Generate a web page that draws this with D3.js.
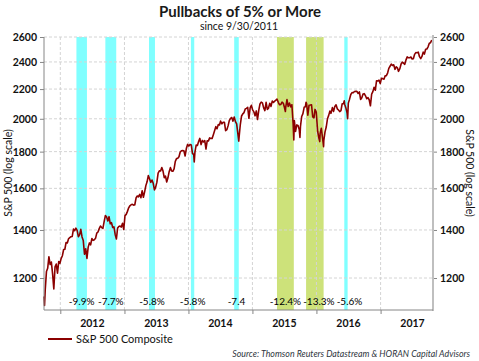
<!DOCTYPE html>
<html>
<head>
<meta charset="utf-8">
<script src="https://cdn.jsdelivr.net/npm/d3@7"></script>
<style>
body { margin: 0; background: #fff; }
text { font-family: Lato, "Liberation Sans", sans-serif; }
</style>
</head>
<body>
<script>
// S&P 500 closes (roughly weekly)
var dates = [
 "2011-09-30","2011-10-03","2011-10-07","2011-10-14","2011-10-21","2011-10-28","2011-11-04","2011-11-11","2011-11-18","2011-11-25","2011-12-02","2011-12-09","2011-12-16","2011-12-23","2011-12-30",
 "2012-01-06","2012-01-13","2012-01-20","2012-01-27","2012-02-03","2012-02-10","2012-02-17","2012-02-24","2012-03-02","2012-03-09","2012-03-16","2012-03-23","2012-03-30","2012-04-06","2012-04-13","2012-04-20","2012-04-27","2012-05-04","2012-05-11","2012-05-18","2012-05-25","2012-06-01","2012-06-08","2012-06-15","2012-06-22","2012-06-29","2012-07-06","2012-07-13","2012-07-20","2012-07-27","2012-08-03","2012-08-10","2012-08-17","2012-08-24","2012-08-31","2012-09-07","2012-09-14","2012-09-21","2012-09-28","2012-10-05","2012-10-12","2012-10-19","2012-10-26","2012-11-02","2012-11-09","2012-11-16","2012-11-23","2012-11-30","2012-12-07","2012-12-14","2012-12-21","2012-12-28",
 "2013-01-04","2013-01-11","2013-01-18","2013-01-25","2013-02-01","2013-02-08","2013-02-15","2013-02-22","2013-03-01","2013-03-08","2013-03-15","2013-03-22","2013-03-29","2013-04-05","2013-04-12","2013-04-19","2013-04-26","2013-05-03","2013-05-10","2013-05-17","2013-05-24","2013-05-31","2013-06-07","2013-06-14","2013-06-21","2013-06-28","2013-07-05","2013-07-12","2013-07-19","2013-07-26","2013-08-02","2013-08-09","2013-08-16","2013-08-23","2013-08-30","2013-09-06","2013-09-13","2013-09-20","2013-09-27","2013-10-04","2013-10-11","2013-10-18","2013-10-25","2013-11-01","2013-11-08","2013-11-15","2013-11-22","2013-11-29","2013-12-06","2013-12-13","2013-12-20","2013-12-27",
 "2014-01-03","2014-01-10","2014-01-17","2014-01-24","2014-01-31","2014-02-03","2014-02-07","2014-02-14","2014-02-21","2014-02-28","2014-03-07","2014-03-14","2014-03-21","2014-03-28","2014-04-04","2014-04-11","2014-04-18","2014-04-25","2014-05-02","2014-05-09","2014-05-16","2014-05-23","2014-05-30","2014-06-06","2014-06-13","2014-06-20","2014-06-27","2014-07-03","2014-07-11","2014-07-18","2014-07-25","2014-08-01","2014-08-08","2014-08-15","2014-08-22","2014-08-29","2014-09-05","2014-09-12","2014-09-19","2014-09-26","2014-10-03","2014-10-10","2014-10-15","2014-10-17","2014-10-24","2014-10-31","2014-11-07","2014-11-14","2014-11-21","2014-11-28","2014-12-05","2014-12-12","2014-12-19","2014-12-26",
 "2015-01-02","2015-01-09","2015-01-16","2015-01-23","2015-01-30","2015-02-06","2015-02-13","2015-02-20","2015-02-27","2015-03-06","2015-03-13","2015-03-20","2015-03-27","2015-04-02","2015-04-10","2015-04-17","2015-04-24","2015-05-01","2015-05-08","2015-05-15","2015-05-21","2015-05-29","2015-06-05","2015-06-12","2015-06-19","2015-06-26","2015-07-02","2015-07-08","2015-07-10","2015-07-17","2015-07-24","2015-07-31","2015-08-07","2015-08-14","2015-08-21","2015-08-25","2015-08-28","2015-09-04","2015-09-11","2015-09-18","2015-09-25","2015-09-29","2015-10-02","2015-10-09","2015-10-16","2015-10-23","2015-10-30","2015-11-03","2015-11-06","2015-11-13","2015-11-20","2015-11-27","2015-12-04","2015-12-11","2015-12-18","2015-12-24","2015-12-31",
 "2016-01-08","2016-01-15","2016-01-20","2016-01-22","2016-01-29","2016-02-05","2016-02-11","2016-02-12","2016-02-19","2016-02-26","2016-03-04","2016-03-11","2016-03-18","2016-03-24","2016-04-01","2016-04-08","2016-04-15","2016-04-22","2016-04-29","2016-05-06","2016-05-13","2016-05-20","2016-05-27","2016-06-03","2016-06-08","2016-06-10","2016-06-17","2016-06-24","2016-06-27","2016-07-01","2016-07-08","2016-07-15","2016-07-22","2016-07-29","2016-08-05","2016-08-12","2016-08-19","2016-08-26","2016-09-02","2016-09-09","2016-09-16","2016-09-23","2016-09-30","2016-10-07","2016-10-14","2016-10-21","2016-10-28","2016-11-04","2016-11-11","2016-11-18","2016-11-25","2016-12-02","2016-12-09","2016-12-16","2016-12-23","2016-12-30",
 "2017-01-06","2017-01-13","2017-01-20","2017-01-27","2017-02-03","2017-02-10","2017-02-17","2017-02-24","2017-03-03","2017-03-10","2017-03-17","2017-03-24","2017-03-31","2017-04-07","2017-04-13","2017-04-21","2017-04-28","2017-05-05","2017-05-12","2017-05-19","2017-05-26","2017-06-02","2017-06-09","2017-06-16","2017-06-23","2017-06-30","2017-07-07","2017-07-14","2017-07-21","2017-07-28","2017-08-04","2017-08-11","2017-08-18","2017-08-25","2017-09-01","2017-09-08","2017-09-15","2017-09-22","2017-09-29","2017-10-06","2017-10-13","2017-10-20"
];
var closes = [
 1131,1099,1155,1225,1238,1285,1253,1263,1216,1159,1244,1255,1219,1265,1258,
 1278,1289,1315,1316,1345,1343,1361,1366,1370,1371,1404,1397,1408,1398,1370,1378,1403,1369,1353,1295,1318,1278,1325,1343,1335,1362,1354,1357,1363,1386,1391,1406,1418,1411,1407,1438,1466,1460,1441,1461,1428,1433,1411,1414,1380,1360,1409,1416,1418,1413,1430,1402,
 1466,1472,1486,1503,1513,1518,1520,1516,1518,1551,1561,1557,1569,1553,1588,1555,1582,1614,1634,1667,1650,1631,1643,1626,1592,1606,1632,1680,1692,1692,1710,1691,1656,1664,1633,1655,1688,1710,1692,1690,1703,1745,1760,1762,1771,1798,1805,1806,1805,1775,1818,1842,
 1832,1842,1839,1790,1783,1742,1797,1838,1836,1859,1878,1841,1866,1857,1865,1815,1864,1863,1881,1878,1878,1900,1924,1950,1937,1963,1961,1985,1968,1978,1978,1925,1931,1955,1988,2003,2008,1985,2011,1982,1967,1906,1862,1887,1965,2018,2032,2040,2064,2068,2075,2003,2071,2089,
 2058,2045,2019,2051,1995,2055,2097,2110,2105,2071,2053,2108,2061,2067,2102,2081,2117,2108,2116,2123,2131,2107,2092,2094,2110,2102,2077,2047,2077,2127,2080,2104,2078,2092,1971,1868,1989,1921,1961,1958,1932,1884,1951,2015,2033,2075,2079,2109,2099,2023,2089,2090,2092,2012,2006,2061,2044,
 1922,1880,1859,1907,1940,1880,1829,1865,1918,1948,2000,2022,2050,2035,2073,2048,2081,2092,2065,2057,2047,2053,2099,2099,2119,2096,2071,2037,2001,2103,2130,2162,2175,2174,2183,2184,2184,2169,2180,2128,2139,2165,2168,2153,2133,2141,2126,2085,2164,2182,2213,2192,2260,2258,2264,2239,
 2277,2275,2271,2295,2297,2316,2351,2367,2383,2373,2378,2344,2363,2355,2329,2349,2384,2399,2391,2382,2416,2439,2432,2433,2438,2423,2425,2459,2473,2472,2477,2441,2426,2443,2477,2461,2500,2502,2519,2549,2553,2575
];

// pullback windows
var pbStart = ["2012-04-02","2012-09-14","2013-05-21","2014-01-15","2014-09-19","2015-05-21","2015-11-03","2016-06-08"];
var pbEnd   = ["2012-06-01","2012-11-15","2013-06-24","2014-02-03","2014-10-15","2015-08-25","2016-02-11","2016-06-27"];
var pbLabel = ["-9.9%","-7.7%","-5.8%","-5.8%","-7.4","-12.4%","-13.3%","-5.6%"];
var pbBig   = [false,false,false,false,false,true,true,false];

var yTicks = [1200,1400,1600,1800,2000,2200,2400,2600];
var years = [2012,2013,2014,2015,2016,2017];

var width = 479, height = 361;
var parse = d3.timeParse("%Y-%m-%d");
var data = dates.map((d, i) => ({date: parse(d), value: closes[i]}));
var pulls = pbStart.map((s, i) => ({s: parse(s), e: parse(pbEnd[i]), big: pbBig[i], label: pbLabel[i]}));

var svg = d3.select("body").append("svg")
    .attr("width", width)
    .attr("height", height);

var x = d3.scaleTime()
    .domain([parse("2011-09-30"), parse("2017-10-27")])
    .range([44, 433]);
var y = d3.scaleLog()
    .domain([1083, 2600])
    .range([310, 37]);

//title
svg.append("text").attr("x", 240).attr("y", 17).attr("text-anchor", "middle")
    .style("font-size", "15px").style("font-weight", "bold").style("fill", "#1a1a1a")
    .text("Pullbacks of 5% or More");
svg.append("text").attr("x", 239).attr("y", 30).attr("text-anchor", "middle")
    .style("font-size", "10.5px").style("fill", "#111")
    .text("since 9/30/2011");

//bands
svg.selectAll("rect.band")
    .data(pulls)
    .enter().append("rect")
    .attr("class", "band")
    .attr("x", d => x(d.s))
    .attr("width", d => x(d.e) - x(d.s))
    .attr("y", y(2600))
    .attr("height", y.range()[0] - y(2600))
    .style("fill", d => d.big ? "#cde27a" : "#80ffff");

//grid
svg.selectAll("line.hgrid").data(yTicks).enter().append("line")
    .attr("x1", 44).attr("x2", 433)
    .attr("y1", d => y(d)).attr("y2", d => y(d))
    .style("stroke", "#d4d4d4").style("stroke-dasharray", "3,2");
svg.selectAll("line.vgrid").data(years).enter().append("line")
    .attr("x1", d => x(new Date(d, 0, 1))).attr("x2", d => x(new Date(d, 0, 1)))
    .attr("y1", y(2600)).attr("y2", 310)
    .style("stroke", "#d4d4d4").style("stroke-dasharray", "3,2");

//line
var line = d3.line().x(d => x(d.date)).y(d => y(d.value));
svg.append("path").datum(data)
    .attr("d", line)
    .style("fill", "none")
    .style("stroke", "#8b0000")
    .style("stroke-width", 1.6)
    .style("stroke-linejoin", "round");

//pullback labels, centred on band then nudged right if they collide
var labels = svg.selectAll("text.pb")
    .data(pulls)
    .enter().append("text")
    .attr("class", "pb")
    .attr("x", d => (x(d.s) + x(d.e)) / 2)
    .attr("y", 305)
    .attr("text-anchor", "middle")
    .style("font-size", "10px").style("fill", "#000")
    .text(d => d.label);
var lastRight = -1e9;
labels.each(function(d) {
    var w = this.getComputedTextLength();
    var cx = +d3.select(this).attr("x");
    if (cx - w / 2 < lastRight + 2) cx = lastRight + 2 + w / 2;
    d3.select(this).attr("x", cx);
    lastRight = cx + w / 2;
});

//axes
var left = svg.append("g").attr("transform", "translate(44,0)")
    .call(d3.axisLeft(y).tickValues(yTicks).tickFormat(d3.format("d")).tickSize(4).tickSizeOuter(0));
left.select(".domain").remove();
left.append("line").attr("y1", 37).attr("y2", 310).style("stroke", "#868686");

var right = svg.append("g").attr("transform", "translate(433,0)")
    .call(d3.axisRight(y).tickValues(yTicks).tickFormat(d3.format("d")).tickSize(4).tickSizeOuter(0));
right.select(".domain").remove();
right.append("line").attr("y1", 35).attr("y2", 311).style("stroke", "#bfbfbf").style("stroke-width", 2);

[left, right].forEach(g => {
    g.selectAll(".tick line").style("stroke", "#868686");
    g.selectAll(".tick text").style("font-family", "Lato, sans-serif")
        .style("font-size", "10.5px").style("font-weight", "bold").style("fill", "#111");
});
right.selectAll(".tick text").attr("x", 7);

var bottom = svg.append("g").attr("transform", "translate(0,310)")
    .call(d3.axisBottom(x).tickValues(years.map(d => new Date(d, 0, 1))).tickFormat("").tickSize(4).tickSizeOuter(0));
bottom.select(".domain").attr("d", "M44,0H433").style("stroke", "#868686");
bottom.selectAll(".tick line").style("stroke", "#868686");
svg.selectAll("text.year").data(years).enter().append("text")
    .attr("x", d => x(new Date(d, 6, 2)))
    .attr("y", 327)
    .attr("text-anchor", "middle")
    .style("font-size", "10.5px").style("font-weight", "bold").style("fill", "#111")
    .text(d => d);

//axis titles
svg.append("text").attr("transform", "translate(12,173) rotate(-90)")
    .attr("text-anchor", "middle")
    .style("font-size", "10.5px").style("fill", "#111")
    .text("S&P 500 (log scale)");
svg.append("text").attr("transform", "translate(466,173) rotate(90)")
    .attr("text-anchor", "middle")
    .style("font-size", "10.5px").style("fill", "#111")
    .text("S&P 500 (log scale)");

//legend
svg.append("line").attr("x1", 48).attr("x2", 72).attr("y1", 339).attr("y2", 339)
    .style("stroke", "#8b0000").style("stroke-width", 2);
svg.append("text").attr("x", 76).attr("y", 343)
    .style("font-size", "11px").style("fill", "#111")
    .text("S&P 500 Composite");

//source
svg.append("text").attr("x", 470).attr("y", 357).attr("text-anchor", "end")
    .style("font-size", "8.8px").style("font-style", "italic").style("fill", "#2f3640")
    .text("Source: Thomson Reuters Datastream & HORAN Capital Advisors");
</script>
</body>
</html>
